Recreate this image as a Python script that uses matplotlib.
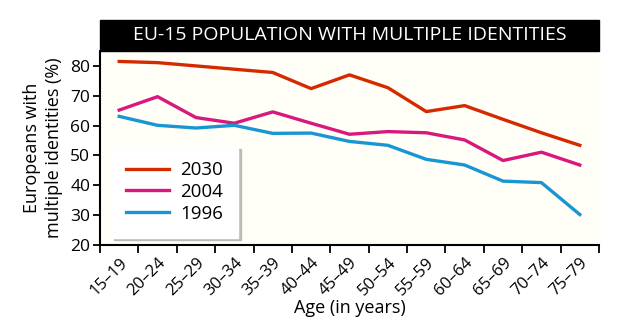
import numpy as np
import matplotlib
matplotlib.use("Agg")
import matplotlib.pyplot as plt
from matplotlib.patches import Rectangle

plt.rcParams['font.family'] = ['Open Sans', 'DejaVu Sans']

ages = ['15–19', '20–24', '25–29', '30–34', '35–39', '40–44', '45–49',
        '50–54', '55–59', '60–64', '65–69', '70–74', '75–79']
y2030 = [81.5, 81.1, 80.0, 78.9, 77.8, 72.4, 77.0, 72.7, 64.7, 66.7, 62.1, 57.6, 53.4]
y2004 = [65.2, 69.7, 62.7, 60.8, 64.6, 60.8, 57.1, 58.0, 57.6, 55.2, 48.3, 51.1, 46.8]
y1996 = [63.1, 60.1, 59.2, 60.1, 57.4, 57.5, 54.7, 53.4, 48.7, 46.8, 41.4, 40.9, 30.2]
yticks = [20, 30, 40, 50, 60, 70, 80]

fig = plt.figure(figsize=(6.23, 3.30), dpi=100)
ax = fig.add_axes([100/623, 1-245/330, 499/623, 194/330])
ax.set_facecolor('#fffef7')

x = np.arange(len(ages))
ax.plot(x, y2030, color='#d42a00', lw=2.4, label='2030')
ax.plot(x, y2004, color='#d8187c', lw=2.4, label='2004')
ax.plot(x, y1996, color='#1896d4', lw=2.4, label='1996')

ax.set_xlim(-0.5, len(ages) - 0.5)
ax.set_ylim(20, 85)
ax.set_yticks(yticks)
ax.set_xticks(np.arange(len(ages) + 1) - 0.5)
ax.set_xticklabels([])
ax.set_xticks(x, minor=True)
ax.set_xticklabels(ages, minor=True, rotation=45, ha='right',
                   rotation_mode='anchor', fontsize=12)
ax.tick_params(axis='x', which='minor', length=0, pad=7)
ax.tick_params(axis='x', which='major', length=6, width=1.3, direction='out')
ax.tick_params(axis='y', length=5, width=1.3, labelsize=12.5, pad=2)
for s in ['top', 'right']:
    ax.spines[s].set_visible(False)
for s in ['left', 'bottom']:
    ax.spines[s].set_linewidth(1.5)

ax.set_xlabel('Age (in years)', fontsize=13, labelpad=0)
ax.set_ylabel('Europeans with\nmultiple identities (%)', fontsize=13,
              labelpad=5, linespacing=1.3)

leg = ax.legend(loc='lower left', bbox_to_anchor=(0.003, -0.01), fontsize=13.5,
                frameon=True, fancybox=False, shadow={'color': '#b0b0b0', 'alpha': 0.8},
                handlelength=2.3, borderpad=0.8, labelspacing=0.2, handletextpad=0.6)
leg.get_frame().set_edgecolor('white')
leg.get_frame().set_facecolor('white')

# title bar
fig.patches.append(Rectangle((100/623, 1-51/330), 499/623, 31/330,
                             transform=fig.transFigure, color='black'))
fig.text(349.5/623, 1-35.5/330, 'EU-15 POPULATION WITH MULTIPLE IDENTITIES',
         color='white', fontsize=14, ha='center', va='center')

fig.savefig('out.png', dpi=100)
